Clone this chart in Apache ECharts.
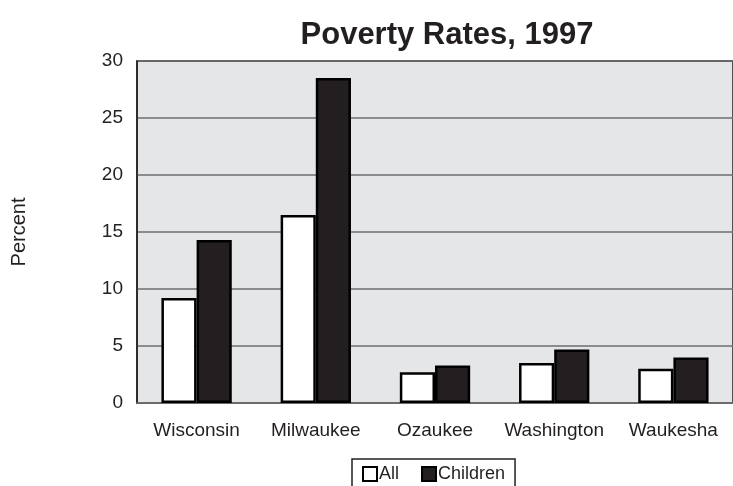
<!DOCTYPE html>
<html>
<head>
<meta charset="utf-8">
<script src="https://cdn.jsdelivr.net/npm/echarts@6/dist/echarts.min.js"></script>
<style>
  html, body { margin: 0; padding: 0; background: #fff; overflow: hidden; }
  #chart { width: 733px; height: 486px; }
</style>
</head>
<body>
<div id="chart"></div>
<script>
const categories = ['Wisconsin', 'Milwaukee', 'Ozaukee', 'Washington', 'Waukesha']
const allRates = [9.2, 16.5, 2.7, 3.5, 3.0]
const childRates = [14.3, 28.5, 3.3, 4.7, 4.0]

const chart = echarts.init(document.getElementById('chart'))

const font = 'Liberation Sans, Arial, sans-serif'
const ink = '#231f20'

chart.setOption({
  animation: false,
  title: {
    text: 'Poverty Rates, 1997',
    left: 442,
    top: 15,
    textAlign: 'center',
    textStyle: { fontFamily: font, fontSize: 31, fontWeight: 'bold', color: ink }
  },
  legend: {
    top: 459,
    left: 352,
    icon: 'rect',
    itemWidth: 14,
    itemHeight: 14,
    itemGap: 22,
    padding: [6, 10, 8, 10],
    borderColor: ink,
    borderWidth: 1.5,
    textStyle: { fontFamily: font, fontSize: 18, color: ink, padding: [0, 0, 0, -3] },
    data: ['All', 'Children']
  },
  grid: {
    left: 137,
    right: -2,
    top: 61,
    bottom: 83,
    show: true,
    backgroundColor: '#e5e6e8',
    borderColor: ink,
    borderWidth: 1.5
  },
  xAxis: {
    type: 'category',
    data: categories,
    axisTick: { show: false },
    axisLine: { lineStyle: { color: '#6d6e70', width: 1.5 } },
    axisLabel: { interval: 0, fontFamily: font, fontSize: 19, color: ink, margin: 18 }
  },
  yAxis: {
    type: 'value',
    min: 0,
    max: 30,
    interval: 5,
    name: 'Percent',
    nameLocation: 'middle',
    nameRotate: 90,
    nameGap: 108,
    nameTextStyle: { fontFamily: font, fontSize: 20, color: ink },
    axisLine: { show: true, lineStyle: { color: ink, width: 1.5 } },
    axisTick: { show: false },
    axisLabel: { fontFamily: font, fontSize: 19, color: ink, margin: 14 },
    splitLine: { lineStyle: { color: '#6d6e70', width: 1.5 } }
  },
  series: [
    {
      name: 'All',
      type: 'bar',
      data: allRates,
      barGap: '0%',
      barCategoryGap: '41%',
      itemStyle: { color: '#ffffff', borderColor: '#000', borderWidth: 2.5 }
    },
    {
      name: 'Children',
      type: 'bar',
      data: childRates,
      itemStyle: { color: ink, borderColor: '#000', borderWidth: 2.5 }
    }
  ]
})
</script>
</body>
</html>
